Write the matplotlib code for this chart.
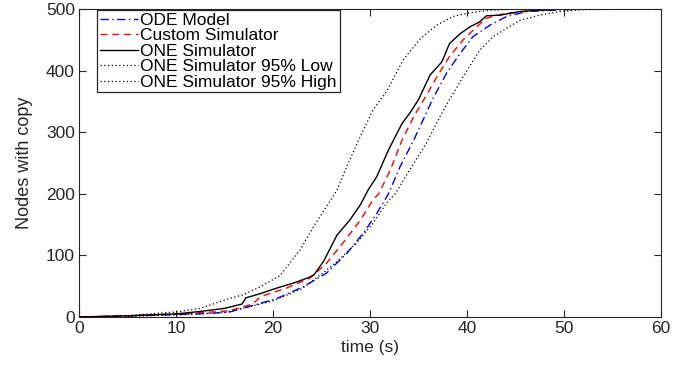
import matplotlib
matplotlib.use('Agg')
import matplotlib.pyplot as plt

plt.rcParams['font.family'] = ['Liberation Sans', 'DejaVu Sans']

# ODE model
t_ode = [0, 5, 10, 12.5, 15.5, 18, 20.4, 23.1, 25.5, 27.6, 29.3, 30.7, 31.9, 33.1, 34.5,
         35.8, 36.5, 37.9, 39.3, 40.6, 42.4, 44.1, 46.2, 48.9, 52, 60]
n_ode = [0, 1.5, 4, 5, 8, 19, 30, 49, 71, 103, 136, 168, 200, 244, 287,
         331, 355, 396, 428, 455, 474, 488, 496, 498, 500, 500]

# custom simulator
t_custom = [0, 5, 10, 12.5, 15.5, 17.9, 18.7, 21.4, 23.8, 25.5, 27.2, 29.0, 30.3, 30.9, 32.1,
            33.3, 34.5, 35.7, 36.9, 38.2, 39.6, 41.0, 42.0, 43.7, 46.5, 50, 60]
n_custom = [0, 2, 5, 7, 10, 21, 33, 47, 63, 87, 120, 157, 190, 200, 239,
            287, 325, 357, 390, 423, 450, 471, 485, 492, 497, 500, 500]

# ONE simulator
t_one = [0, 5, 10, 12.5, 15, 16.8, 17.2, 18.7, 20.4, 22.1, 23.5, 24.2, 25.2, 26.6, 27.9,
         29.0, 29.8, 30.7, 31.9, 33.3, 34.1, 35.0, 36.2, 37.4, 38.2, 39.3, 40.3, 41.3,
         42.0, 43.4, 45.5, 47.5, 50, 60]
n_one = [0, 2, 5, 9, 14, 21, 31, 38, 47, 55, 63, 68, 90, 133, 157,
         182, 206, 228, 271, 314, 331, 353, 393, 414, 444, 460, 471, 479,
         489, 490, 496, 498, 500, 500]

# ONE simulator 95% low
t_low = [0, 5, 10, 15, 20, 23, 25.2, 26.6, 28.6, 30.3, 31.7, 32.6, 34.1, 35.8, 37.2, 38.2,
         39.6, 41.3, 42.7, 44.1, 45.5, 47.5, 49.6, 52, 60]
n_low = [0, 1, 3.5, 7, 26, 46, 72, 90, 120, 152, 185, 200, 239, 282, 325, 353,
         390, 433, 455, 469, 482, 490, 496, 499, 500]

# ONE simulator 95% high
t_high = [0, 5, 10.3, 12.5, 15.5, 16.9, 18.7, 20.7, 22.8, 24.2, 25.5, 26.6, 27.6, 29.0,
          30.3, 31.7, 33.4, 35.2, 36.9, 38.6, 40.3, 42.4, 45, 60]
n_high = [0, 2, 8.6, 14, 30, 36, 49, 67, 109, 147, 179, 206, 244, 293,
          336, 366, 417, 452, 474, 488, 494, 498, 500, 500]

dark = '#262626'

fig = plt.figure(figsize=(6.88, 3.66), dpi=100)
ax = fig.add_axes([0.1148, 0.1339, 0.8460, 0.8415])

ax.plot(t_ode, n_ode, color='b', lw=1.0, linestyle=(0, (6, 2.5, 1, 2.5)), label='ODE Model')
ax.plot(t_custom, n_custom, color='r', lw=1.0, linestyle=(0, (5, 3.5)), label='Custom Simulator')
ax.plot(t_one, n_one, color='k', lw=1.0, label='ONE Simulator')
ax.plot(t_low, n_low, color='k', lw=0.9, linestyle=(0, (1, 2)), label='ONE Simulator 95% Low')
ax.plot(t_high, n_high, color='k', lw=0.9, linestyle=(0, (1, 2)), label='ONE Simulator 95% High')

ax.set_xlim(0, 60)
ax.set_ylim(0, 500)
ax.set_xticks(range(0, 61, 10))
ax.set_yticks(range(0, 501, 100))
ax.tick_params(direction='in', top=True, right=True, length=5, width=0.8,
               labelsize=12.5, colors=dark, pad=3)
for s in ax.spines.values():
    s.set_color(dark)
    s.set_linewidth(0.8)

ax.set_xlabel('time (s)', fontsize=12.5, color=dark, labelpad=3)
ax.set_ylabel('Nodes with copy', fontsize=13, color=dark, labelpad=9)

leg = ax.legend(loc='upper left', bbox_to_anchor=(0.031, 0.997), fontsize=12.5,
                frameon=True, fancybox=False, edgecolor=dark, framealpha=1,
                borderaxespad=0, borderpad=0.15, labelspacing=0.02,
                handlelength=2.2, handletextpad=0.15)
leg.get_frame().set_linewidth(0.9)

fig.savefig('out.png', dpi=100)
